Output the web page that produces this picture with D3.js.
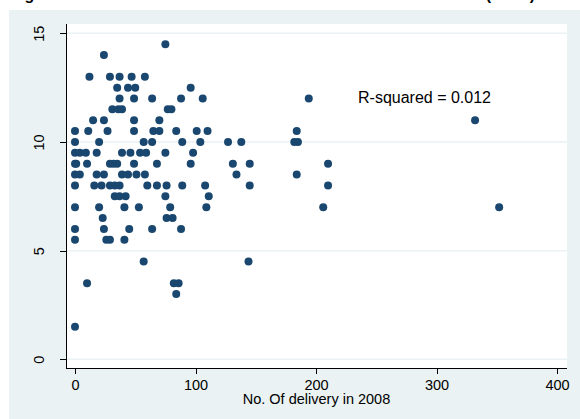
<!DOCTYPE html>
<html lang="en">
<head>
<meta charset="utf-8">
<title>delivery scatter</title>
<script src="https://d3js.org/d3.v7.min.js"></script>
<style>
  body { margin: 0; background: #fff; }
  svg { display: block; font-family: "Liberation Sans", Arial, sans-serif; }
  .axis path, .axis line { stroke: #000; shape-rendering: crispEdges; }
  .axis text { font-size: 14.5px; fill: #000; }
</style>
</head>
<body>
<div id="chart"></div>
<script>
// one entry per facility: number of deliveries in 2008 and its score
const deliveries = [
  75,
  24,
  12, 29, 37, 47, 58,
  35, 44, 50, 96,
  37, 49, 64, 88, 106, 194,
  31, 36, 39, 77, 80,
  15, 24, 49, 70, 332,
  0, 11, 27, 49, 65, 70, 84, 101, 110, 184,
  0, 20, 57, 64, 89, 104, 127, 138, 182, 185,
  0, 4, 9, 18, 39, 46, 54, 59, 75, 98,
  0, 1, 10, 29, 32, 35, 49, 68, 96, 131, 145, 210,
  0, 4, 18, 24, 39, 44, 51, 58, 134, 184,
  0, 16, 22, 29, 33, 37, 60, 68, 76, 89, 108, 145, 210,
  33, 37, 42, 75, 111,
  0, 20, 41, 53, 79, 109, 206, 352,
  23, 76, 81,
  0, 24, 45, 64, 88,
  0, 26, 29, 41,
  57, 144,
  10, 82, 86,
  84,
  0
];
const score = [
  14.5,
  14,
  13, 13, 13, 13, 13,
  12.5, 12.5, 12.5, 12.5,
  12, 12, 12, 12, 12, 12,
  11.5, 11.5, 11.5, 11.5, 11.5,
  11, 11, 11, 11, 11,
  10.5, 10.5, 10.5, 10.5, 10.5, 10.5, 10.5, 10.5, 10.5, 10.5,
  10, 10, 10, 10, 10, 10, 10, 10, 10, 10,
  9.5, 9.5, 9.5, 9.5, 9.5, 9.5, 9.5, 9.5, 9.5, 9.5,
  9, 9, 9, 9, 9, 9, 9, 9, 9, 9, 9, 9,
  8.5, 8.5, 8.5, 8.5, 8.5, 8.5, 8.5, 8.5, 8.5, 8.5,
  8, 8, 8, 8, 8, 8, 8, 8, 8, 8, 8, 8, 8,
  7.5, 7.5, 7.5, 7.5, 7.5,
  7, 7, 7, 7, 7, 7, 7, 7,
  6.5, 6.5, 6.5,
  6, 6, 6, 6, 6,
  5.5, 5.5, 5.5, 5.5,
  4.5, 4.5,
  3.5, 3.5, 3.5,
  3,
  1.5
];
const xTicks = [0, 100, 200, 300, 400];
const yTicks = [0, 5, 10, 15];
const xTitle = "No. Of delivery in 2008";
const noteText = "R-squared = 0.012";
const titleText = "Figure 3: Mean score vs. total deliveries in health centres (2008)";

const w = 580, h = 419;
const plot = { left: 66, right: 567, top: 24, bottom: 368 };

const svg = d3.select("#chart").append("svg")
  .attr("width", w)
  .attr("height", h);

// graph region (stata-ish light blue grey)
svg.append("rect")
  .attr("x", 9).attr("y", 10)
  .attr("width", w - 9).attr("height", h - 10)
  .attr("fill", "#eaf2f3");

// title, mostly cut off at top of the picture
svg.append("text")
  .attr("x", 9).attr("y", -0.5)
  .attr("textLength", 526)
  .attr("lengthAdjust", "spacing")
  .attr("font-size", "16px")
  .attr("font-weight", "bold")
  .text(titleText);

svg.append("rect")
  .attr("x", plot.left).attr("y", plot.top)
  .attr("width", plot.right - plot.left).attr("height", plot.bottom - plot.top)
  .attr("fill", "#fff");

const x = d3.scaleLinear().domain([0, 400]).range([75, 557]);
const y = d3.scaleLinear().domain([0, 15]).range([359.3, 33.3]);

// grid
svg.append("g")
  .selectAll("line")
  .data(yTicks)
  .enter().append("line")
  .attr("x1", plot.left).attr("x2", plot.right)
  .attr("y1", d => y(d)).attr("y2", d => y(d))
  .attr("stroke", "#eaf2f3")
  .attr("stroke-width", 1.5);

// points
svg.append("g")
  .selectAll("circle")
  .data(deliveries)
  .enter().append("circle")
  .attr("cx", d => x(d))
  .attr("cy", (d, i) => y(score[i]))
  .attr("r", 4)
  .attr("fill", "#1a476f");

// axes
const xAxis = d3.axisBottom(x).tickValues(xTicks).tickSize(6).tickPadding(4).tickSizeOuter(0);
const gx = svg.append("g")
  .attr("class", "axis")
  .attr("transform", "translate(0," + plot.bottom + ")")
  .call(xAxis);
gx.select(".domain").attr("d", "M" + plot.left + ",0H" + plot.right);
gx.selectAll("text").attr("dy", null).attr("y", 22);

const yAxis = d3.axisLeft(y).tickValues(yTicks).tickSize(6).tickSizeOuter(0);
const gy = svg.append("g")
  .attr("class", "axis")
  .attr("transform", "translate(" + plot.left + ",0)")
  .call(yAxis);
gy.select(".domain").attr("d", "M0," + plot.top + "V" + plot.bottom);
gy.selectAll("text")
  .attr("x", null).attr("dy", null)
  .attr("text-anchor", "middle")
  .attr("transform", "translate(-22.5,0) rotate(-90)");

// axis title
svg.append("text")
  .attr("x", (plot.left + plot.right) / 2)
  .attr("y", 404)
  .attr("text-anchor", "middle")
  .attr("font-size", "14.5px")
  .text(xTitle);

// r-squared note
svg.append("text")
  .attr("x", 358).attr("y", 103.3)
  .attr("font-size", "16px")
  .text(noteText);
</script>
</body>
</html>
